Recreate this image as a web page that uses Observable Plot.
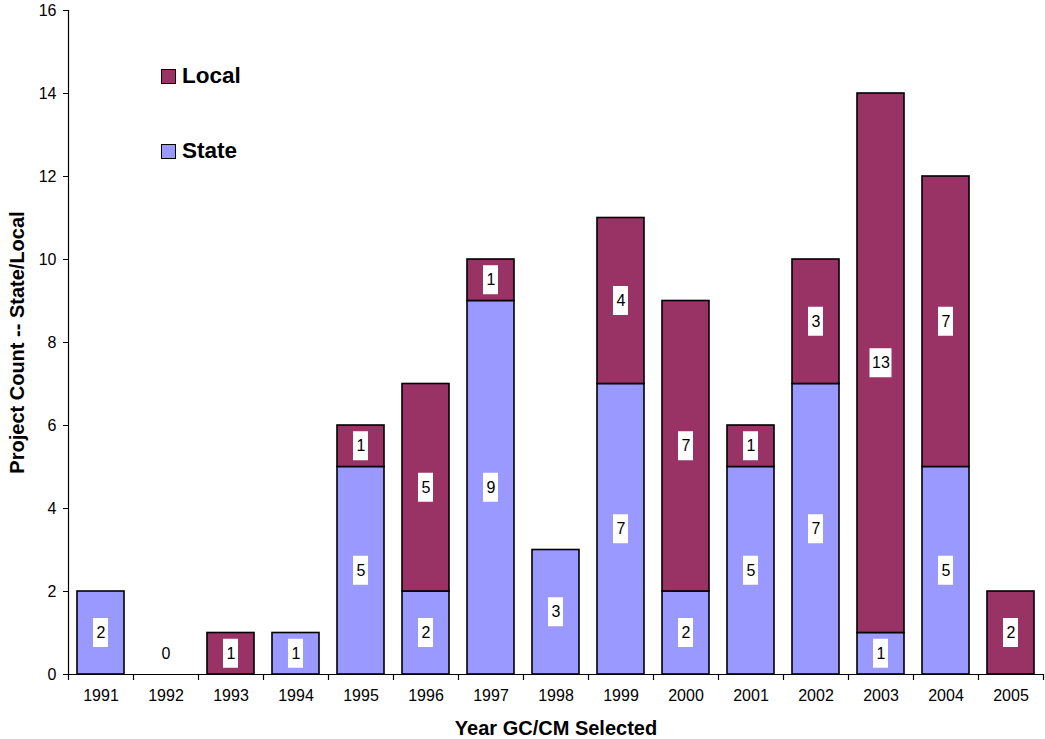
<!DOCTYPE html>
<html>
<head>
<meta charset="utf-8">
<script src="https://cdn.jsdelivr.net/npm/d3@7"></script>
<script src="https://cdn.jsdelivr.net/npm/@observablehq/plot@0.6"></script>
<style>
  body { margin: 0; background: #fff; font-family: "Liberation Sans", Arial, sans-serif; }
  #wrap { position: relative; width: 1045px; height: 739px; }
  .legend { position: absolute; left: 161px; font-weight: bold; font-size: 22.5px; color: #000; display: flex; align-items: center; }
  .legend span.sw { display: inline-block; width: 13px; height: 13px; border: 1px solid #000; margin-right: 6px; }
</style>
</head>
<body>
<div id="wrap"></div>
<script>
const years = ["1991","1992","1993","1994","1995","1996","1997","1998","1999","2000","2001","2002","2003","2004","2005"];
const stateCounts = [2, 0, 0, 1, 5, 2, 9, 3, 7, 2, 5, 7, 1, 5, 0];
const localCounts = [0, 0, 1, 0, 1, 5, 1, 0, 4, 7, 1, 3, 13, 7, 2];
const yTicks = [0, 2, 4, 6, 8, 10, 12, 14, 16];
const seriesNames = ["State", "Local"];
const seriesColors = ["#9999FF", "#993366"];

// Build tables from the arrays
const segments = [];
years.forEach((yr, i) => {
  const s = stateCounts[i], l = localCounts[i];
  if (s > 0) segments.push({year: yr, type: "State", y1: 0, y2: s, mid: s / 2, value: s});
  if (l > 0) segments.push({year: yr, type: "Local", y1: s, y2: s + l, mid: s + l / 2, value: l});
});
const zeroTotals = years.map((yr, i) => ({year: yr, total: stateCounts[i] + localCounts[i]})).filter(d => d.total === 0);
const oneDigit = segments.filter(d => String(d.value).length === 1);
const twoDigit = segments.filter(d => String(d.value).length > 1);

const step = 65;
const font = "Liberation Sans, Arial, sans-serif";

const chart = Plot.plot({
  width: 1045,
  height: 739,
  marginLeft: 68,
  marginRight: 2,
  marginTop: 10,
  marginBottom: 65,
  style: {fontFamily: font, fontSize: "16px", color: "#000", background: "#fff"},
  x: {domain: years, paddingInner: 0.28, paddingOuter: 0.14, label: null},
  y: {domain: [0, 16], ticks: yTicks, label: null},
  color: {domain: seriesNames, range: seriesColors},
  marks: [
    Plot.barY(segments, {x: "year", y1: "y1", y2: "y2", fill: "type", stroke: "#000", strokeWidth: 1.6}),
    // label boxes
    Plot.barY(oneDigit, {x: "year", y1: "mid", y2: "mid", fill: "#fff", insetTop: -14.5, insetBottom: -14.5, insetLeft: 16, insetRight: 16}),
    Plot.barY(twoDigit, {x: "year", y1: "mid", y2: "mid", fill: "#fff", insetTop: -14.5, insetBottom: -14.5, insetLeft: 12.5, insetRight: 12.5}),
    Plot.text(segments, {x: "year", y: "mid", text: d => String(d.value), fill: "#000", fontSize: 16}),
    Plot.text(zeroTotals, {x: "year", y: () => 0, text: d => String(d.total), fill: "#000", fontSize: 16, dy: -21}),
    // axes
    Plot.axisY({ticks: yTicks, tickSize: 5, tickPadding: 7, fontSize: 16, label: null, stroke: "#000"}),
    Plot.ruleX([0], {x: () => years[0], dx: -step / 2, y1: 0, y2: 16, stroke: "#000", strokeWidth: 1.2}),
    Plot.ruleY([0], {stroke: "#000", strokeWidth: 1.2}),
    Plot.ruleX(years, {x: d => d, dx: -step / 2, y1: 0, y2: 0, insetBottom: -6, stroke: "#000", strokeWidth: 1.2}),
    Plot.ruleX([years[years.length - 1]], {x: d => d, dx: step / 2, y1: 0, y2: 0, insetBottom: -6, stroke: "#000", strokeWidth: 1.2}),
    Plot.axisX({tickSize: 0, tickPadding: 15, fontSize: 16, label: null}),
    Plot.text(["Year GC/CM Selected"], {frameAnchor: "bottom", dy: 54, lineAnchor: "middle", text: d => d, fontWeight: "bold", fontSize: 20}),
    Plot.text(["Project Count -- State/Local"], {frameAnchor: "left", dx: -51, rotate: -90, textAnchor: "middle", lineAnchor: "middle", text: d => d, fontWeight: "bold", fontSize: 20})
  ]
});

const wrap = document.getElementById("wrap");
wrap.appendChild(chart);

// Legend overlay (Local above State, as in the reference)
const legendItems = [{name: "Local", color: seriesColors[1], top: 63}, {name: "State", color: seriesColors[0], top: 138}];
legendItems.forEach(it => {
  const div = document.createElement("div");
  div.className = "legend";
  div.style.top = it.top + "px";
  div.innerHTML = `<span class="sw" style="background:${it.color}"></span>${it.name}`;
  wrap.appendChild(div);
});
</script>
</body>
</html>
